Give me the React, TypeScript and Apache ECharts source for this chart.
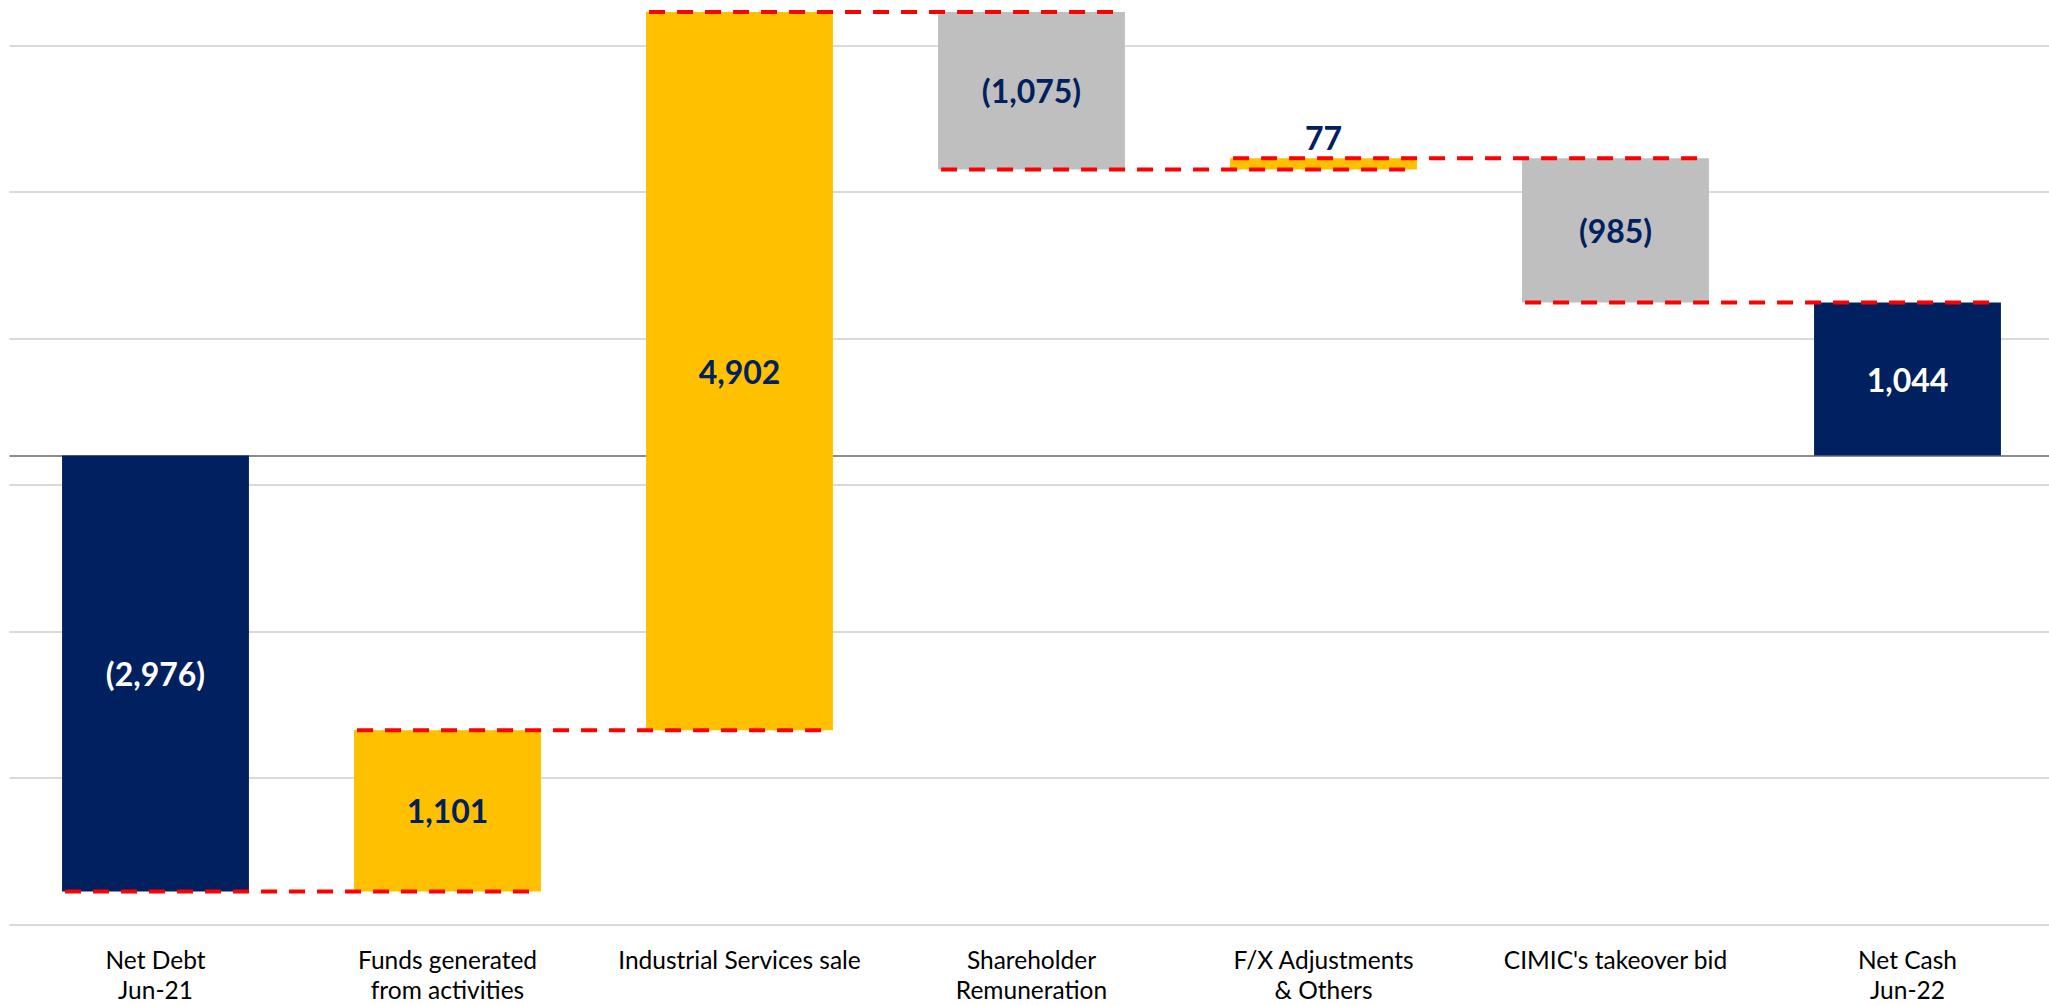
import React, { useEffect, useRef } from "react";
import * as echarts from "echarts";

// ---- data ----
const categories = [
  "Net Debt\nJun-21",
  "Funds generated\nfrom activities",
  "Industrial Services sale",
  "Shareholder\nRemuneration",
  "F/X Adjustments\n& Others",
  "CIMIC's takeover bid",
  "Net Cash\nJun-22",
];
// "total" bars start at zero; "delta" bars float on the running total
const kinds = ["total", "delta", "delta", "delta", "delta", "delta", "total"];
const values = [-2976, 1101, 4902, -1075, 77, -985, 1044];
const gridValues = [-3200, -2200, -1200, -200, 800, 1800, 2800];
const axisMin = -3200;
const axisMax = 3109;

const NAVY = "#002060";
const YELLOW = "#FFC000";
const GREY = "#BFBFBF";
const BAR_RATIO = 0.64;
const FONT = "Lato, 'Open Sans', sans-serif";

function fmt(v: number): string {
  const s = Math.abs(v).toLocaleString("en-US");
  return v < 0 ? `(${s})` : s;
}

// build floating bars [index, low, high] and connector levels
const bars: number[][] = [];
const ends: number[] = [];
{
  let running = 0;
  values.forEach((v, i) => {
    let lo: number, hi: number, end: number;
    if (kinds[i] === "total") {
      lo = Math.min(0, v);
      hi = Math.max(0, v);
      end = v;
    } else {
      end = running + v;
      lo = Math.min(running, end);
      hi = Math.max(running, end);
    }
    running = end;
    bars.push([i, lo, hi]);
    ends.push(end);
  });
}
const connectors = ends.slice(0, -1).map((lvl, i) => [i, lvl]);

function barColor(i: number): string {
  if (kinds[i] === "total") return NAVY;
  return values[i] >= 0 ? YELLOW : GREY;
}

export default function App() {
  const ref = useRef<HTMLDivElement>(null);
  useEffect(() => {
    if (!ref.current) return;
    const chart = echarts.init(ref.current, undefined, { renderer: "svg" });
    chart.setOption({
      animation: false,
      backgroundColor: "#ffffff",
      grid: { left: 9.5, top: 0, width: 2044, height: 924.3, containLabel: false },
      xAxis: {
        type: "category",
        data: categories,
        axisLine: { show: false },
        axisTick: { show: false },
        splitLine: { show: false },
        axisLabel: {
          interval: 0,
          margin: 20,
          color: "#000000",
          fontFamily: FONT,
          fontSize: 24.5,
          lineHeight: 30,
        },
      },
      yAxis: {
        type: "value",
        min: axisMin,
        max: axisMax,
        show: false,
        splitLine: { show: false },
      },
      series: [
        {
          type: "line",
          data: [],
          silent: true,
          z: 1,
          markLine: {
            silent: true,
            symbol: "none",
            z: 1,
            label: { show: false },
            data: [
              ...gridValues.map((v) => ({
                yAxis: v,
                lineStyle: { color: "#D9D9D9", width: 2, type: "solid" },
              })),
              { yAxis: 0, lineStyle: { color: "#8C8C8C", width: 2, type: "solid" } },
            ],
          },
        },
        {
          type: "custom",
          z: 3,
          clip: false,
          data: bars,
          renderItem: (params: any, api: any) => {
            const idx = params.dataIndex;
            const i = api.value(0);
            const lo = api.value(1);
            const hi = api.value(2);
            const pTop = api.coord([i, hi]);
            const pBot = api.coord([i, lo]);
            const w = api.size([1, 0])[0] * BAR_RATIO;
            const h = pBot[1] - pTop[1];
            const isTotal = kinds[idx] === "total";
            const small = h < 40;
            return {
              type: "group",
              children: [
                {
                  type: "rect",
                  shape: { x: pTop[0] - w / 2, y: pTop[1], width: w, height: h },
                  style: { fill: barColor(idx) },
                },
                {
                  type: "text",
                  style: {
                    text: fmt(values[idx]),
                    x: pTop[0],
                    y: small ? pTop[1] - 21 : pTop[1] + h / 2,
                    align: "center",
                    verticalAlign: "middle",
                    fill: isTotal ? "#FFFFFF" : NAVY,
                    fontFamily: FONT,
                    fontWeight: "bold",
                    fontSize: 32,
                  },
                },
              ],
            };
          },
        },
        {
          type: "custom",
          z: 4,
          clip: false,
          data: connectors,
          renderItem: (params: any, api: any) => {
            const i = api.value(0);
            const lvl = api.value(1);
            const w = api.size([1, 0])[0] * BAR_RATIO;
            const a = api.coord([i, lvl]);
            const b = api.coord([i + 1, lvl]);
            return {
              type: "line",
              shape: { x1: a[0] - w / 2 + 3, y1: a[1], x2: b[0] + w / 2 - 4, y2: b[1] },
              style: { stroke: "#FF0000", lineWidth: 4, lineDash: [16, 12] },
            };
          },
        },
      ],
    });
    return () => chart.dispose();
  }, []);
  return (
    <div
      ref={ref}
      style={{ position: "fixed", left: 0, top: 0, width: 2070, height: 1005, background: "#fff" }}
    />
  );
}
